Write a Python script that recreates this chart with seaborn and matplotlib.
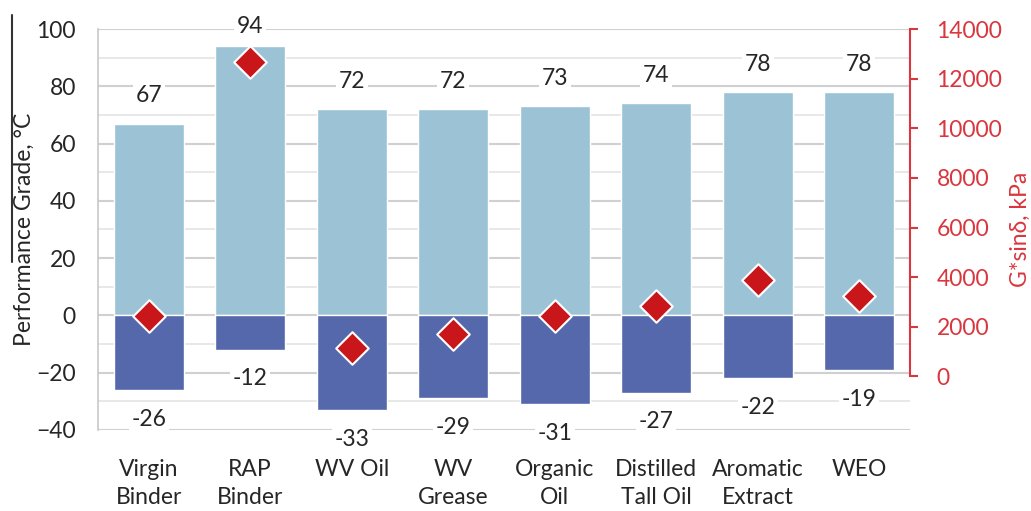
import numpy as np
import matplotlib
matplotlib.use("Agg")
import matplotlib.pyplot as plt
from matplotlib.ticker import MultipleLocator
from matplotlib.lines import Line2D
import seaborn as sns

# Binder performance grade range and G*sin(delta) by rejuvenator type
categories = ["Virgin\nBinder", "RAP\nBinder", "WV Oil", "WV\nGrease", "Organic\nOil",
              "Distilled\nTall Oil", "Aromatic\nExtract", "WEO"]
high_grade = [67, 94, 72, 72, 73, 74, 78, 78]
low_grade = [-26, -12, -33, -29, -31, -27, -22, -19]
g_sin_delta = [2450, 12650, 1140, 1700, 2450, 2850, 3900, 3250]
g_ticks = [0, 2000, 4000, 6000, 8000, 10000, 12000, 14000]

light_blue = "#9bc2d5"
dark_blue = "#5468ab"
red = "#c8161a"
axis_red = "#d9363e"
text_col = "#262626"

sns.set_theme(style="white")
plt.rcParams["font.family"] = ["Lato", "DejaVu Sans"]
fs = 16.5

fig = plt.figure(figsize=(10.31, 5.11), dpi=100)
ax = fig.add_axes([98 / 1031, 1 - 430 / 511, 812 / 1031, 401 / 511])

sns.barplot(x=categories, y=high_grade, color=light_blue, saturation=1, width=0.69,
            edgecolor="white", linewidth=1, ax=ax, zorder=3)
sns.barplot(x=categories, y=low_grade, color=dark_blue, saturation=1, width=0.69,
            edgecolor="white", linewidth=1, ax=ax, zorder=3)

ax.set_ylim(-40, 100)
ax.set_xlim(-0.5, len(categories) - 0.5)
ax.yaxis.set_major_locator(MultipleLocator(20))
ax.yaxis.set_minor_locator(MultipleLocator(10))
ax.grid(which="major", axis="y", color="#d0d0d0", lw=1.5, zorder=0)
ax.grid(which="minor", axis="y", color="#e4e4e4", lw=1.2, zorder=0)
ax.set_axisbelow(True)

for side in ["top", "bottom", "right"]:
    ax.spines[side].set_visible(False)
ax.spines["left"].set_color("#c8c8c8")
ax.spines["left"].set_linewidth(1.2)

ax.tick_params(axis="y", which="both", length=0, pad=16, labelsize=fs, labelcolor=text_col)
ax.tick_params(axis="x", length=0, pad=21, labelsize=fs, labelcolor=text_col)
for lbl in ax.get_xticklabels():
    lbl.set_linespacing(1.4)
ax.set_xlabel("")
ax.set_ylabel("Performance Grade, °C", fontsize=fs, color=text_col)
ax.yaxis.set_label_coords(-0.078, 0.5)

# value labels above the high grade and below the low grade bars,
# kept inside the plotting area near the top
box = dict(boxstyle="square,pad=0.12", fc="white", ec="none")
for i, (hi, lo) in enumerate(zip(high_grade, low_grade)):
    up = 20 if hi < 90 else 14
    ax.annotate(f"{hi}", (i, hi), xytext=(0, up), textcoords="offset points",
                ha="center", va="center", fontsize=fs, color=text_col, bbox=box, zorder=6)
    ax.annotate(f"{lo}", (i, lo), xytext=(0, -21), textcoords="offset points",
                ha="center", va="center", fontsize=fs, color=text_col, bbox=box, zorder=6)

# secondary axis: G*sin(delta)
ax2 = ax.twinx()
sns.scatterplot(x=np.arange(len(categories)), y=g_sin_delta, marker="D", s=275,
                color=red, edgecolor="white", linewidth=1.5, ax=ax2, zorder=5, legend=False)
ax2.set_ylim(-2160, 14000)
ax2.set_xlim(-0.5, len(categories) - 0.5)
ax2.set_yticks(g_ticks)
for side in ["top", "bottom", "left"]:
    ax2.spines[side].set_visible(False)
ax2.spines["right"].set_color(axis_red)
ax2.spines["right"].set_linewidth(1.5)
ax2.spines["right"].set_bounds(0, 14000)
ax2.tick_params(axis="y", direction="out", length=6, width=1.5, color=axis_red,
                labelcolor=axis_red, labelsize=fs, pad=13, right=True)
ax2.grid(False)
ax2.set_ylabel("G*sinδ, kPa", fontsize=fs, color=axis_red)
ax2.yaxis.set_label_coords(1.1235, 0.5)

fig.add_artist(Line2D([12 / 1031, 12 / 1031], [1 - 15 / 511, 1 - 262 / 511],
                      color="#333333", lw=1.5))

fig.savefig("out.png", dpi=100)
